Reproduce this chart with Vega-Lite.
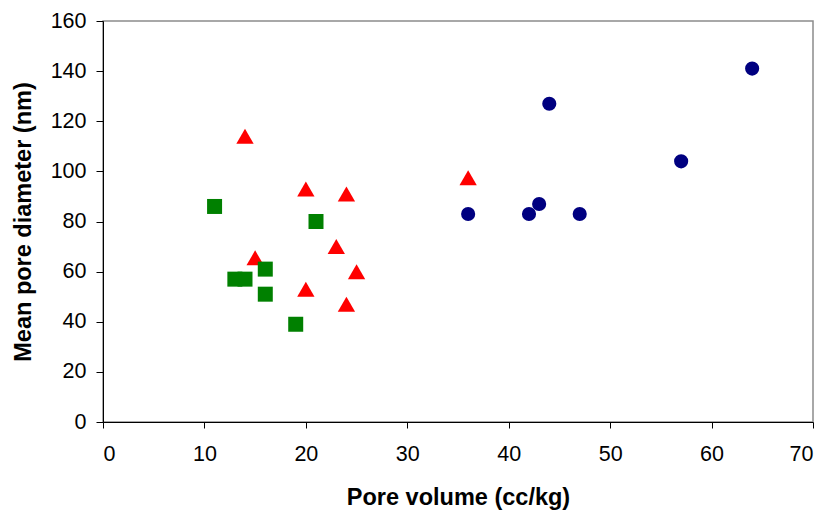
{
  "$schema": "https://vega.github.io/schema/vega-lite/v6.json",
  "autosize": "none",
  "width": 710,
  "height": 401,
  "padding": {"left": 103, "top": 21, "right": 14, "bottom": 88},
  "background": "white",
  "config": {
    "view": {"stroke": "#8c8c8c", "strokeWidth": 1.5},
    "font": "Liberation Sans",
    "axis": {
      "grid": false,
      "domainColor": "black",
      "domainWidth": 1,
      "tickColor": "black",
      "tickWidth": 1,
      "labelFont": "Liberation Sans",
      "labelFontSize": 21.5,
      "labelColor": "black",
      "titleFont": "Liberation Sans",
      "titleFontSize": 23.5,
      "titleFontWeight": "bold",
      "titleColor": "black"
    }
  },
  "data": {
    "values": [
      {"pv": 36, "d": 83, "g": "A"},
      {"pv": 42, "d": 83, "g": "A"},
      {"pv": 43, "d": 87, "g": "A"},
      {"pv": 44, "d": 127, "g": "A"},
      {"pv": 47, "d": 83, "g": "A"},
      {"pv": 57, "d": 104, "g": "A"},
      {"pv": 64, "d": 141, "g": "A"},
      {"pv": 14, "d": 114, "g": "B"},
      {"pv": 20, "d": 93, "g": "B"},
      {"pv": 24, "d": 91, "g": "B"},
      {"pv": 23, "d": 70, "g": "B"},
      {"pv": 25, "d": 60, "g": "B"},
      {"pv": 15, "d": 65.5, "g": "B"},
      {"pv": 20, "d": 53, "g": "B"},
      {"pv": 24, "d": 47, "g": "B"},
      {"pv": 36, "d": 97.5, "g": "B"},
      {"pv": 11, "d": 86, "g": "C"},
      {"pv": 21, "d": 80, "g": "C"},
      {"pv": 13, "d": 57, "g": "C"},
      {"pv": 14, "d": 57, "g": "C"},
      {"pv": 16, "d": 61, "g": "C"},
      {"pv": 16, "d": 51, "g": "C"},
      {"pv": 19, "d": 39, "g": "C"}
    ]
  },
  "mark": {"type": "point", "filled": true, "opacity": 1},
  "encoding": {
    "x": {
      "field": "pv", "type": "quantitative",
      "scale": {"domain": [0, 70], "nice": false, "zero": false},
      "axis": {"values": [0, 10, 20, 30, 40, 50, 60, 70], "title": "Pore volume (cc/kg)", "tickSize": 6, "labelPadding": 15, "titlePadding": 21}
    },
    "y": {
      "field": "d", "type": "quantitative",
      "scale": {"domain": [0, 160], "nice": false, "zero": false},
      "axis": {"values": [0, 20, 40, 60, 80, 100, 120, 140, 160], "title": "Mean pore diameter (nm)", "tickSize": 7, "labelPadding": 10, "titlePadding": 15}
    },
    "shape": {
      "field": "g", "type": "nominal",
      "scale": {"domain": ["A", "B", "C"], "range": ["circle", "triangle-up", "square"]},
      "legend": null
    },
    "color": {
      "field": "g", "type": "nominal",
      "scale": {"domain": ["A", "B", "C"], "range": ["#000080", "#ff0000", "#008000"]},
      "legend": null
    },
    "size": {
      "field": "g", "type": "nominal",
      "scale": {"type": "ordinal", "domain": ["A", "B", "C"], "range": [200, 300, 225]},
      "legend": null
    }
  }
}
